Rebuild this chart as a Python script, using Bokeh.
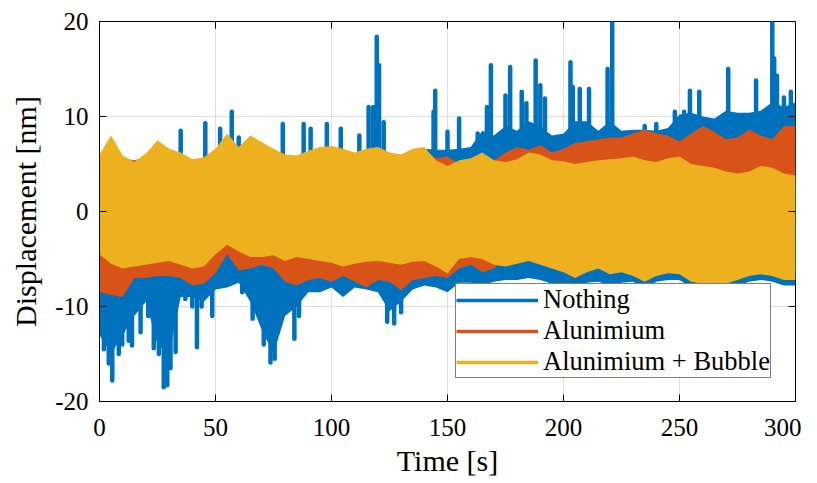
from bokeh.plotting import figure
from bokeh.models import Legend, LegendItem, Range1d, FixedTicker
from bokeh.embed import file_html
from bokeh.resources import INLINE

# ---- data (envelopes, 5 s grid) ----
time = [0, 5, 10, 15, 20, 25, 30, 35, 40, 45, 50, 55, 60, 65, 70, 75, 80, 85, 90, 95,
        100, 105, 110, 115, 120, 125, 130, 135, 140, 145, 150, 155, 160, 165, 170, 175,
        180, 185, 190, 195, 200, 205, 210, 215, 220, 225, 230, 235, 240, 245, 250, 255,
        260, 265, 270, 275, 280, 285, 290, 295, 300]

nothing_hi = [5.6, 7.6, 5.5, 5.0, 5.8, 7.2, 6.3, 6.0, 5.3, 5.4, 6.3, 7.9, 6.5, 7.7, 7.0, 6.3,
              5.8, 5.6, 6.2, 6.5, 6.6, 6.3, 6.0, 6.4, 6.6, 6.0, 5.8, 6.4, 6.6, 6.5, 6.5, 6.6,
              6.8, 8.5, 8.0, 9.0, 8.5, 9.5, 9.0, 8.0, 8.2, 9.5, 9.5, 8.5, 9.5, 8.5, 8.6, 8.6,
              8.5, 8.8, 10.2, 10.4, 10.0, 9.8, 10.6, 10.4, 10.4, 10.6, 11.5, 11.0, 11.5]
nothing_lo = [-13.0, -15.0, -13.0, -11.0, -9.5, -14.0, -15.0, -9.0, -9.0, -9.5, -8.2, -8.0,
              -7.5, -9.5, -12.5, -15.0, -11.0, -10.0, -8.5, -8.5, -8.0, -9.0, -8.0, -8.2,
              -8.5, -10.5, -9.5, -8.2, -7.8, -8.0, -8.5, -7.5, -7.5, -7.8, -7.4, -7.2, -7.2,
              -7.0, -7.2, -7.6, -7.6, -8.2, -7.5, -7.4, -7.8, -7.5, -7.4, -8.2, -7.4, -7.2,
              -7.2, -8.0, -8.2, -8.4, -8.2, -7.8, -7.4, -7.2, -7.4, -7.8, -7.8]
nothing_spike_t = [35, 45.6, 52, 57, 60, 79, 88, 91, 98, 104, 112, 116, 118, 119.5, 120.5,
                   122.5, 144, 144.7, 150, 155, 163, 167, 168.7, 175, 177, 182, 184, 188,
                   190, 192, 203, 204, 207, 211, 219, 221, 235, 240, 248, 252, 254.5, 258.5,
                   271, 283, 290, 290.8, 292, 295, 298,
                   1.9, 4.0, 5.5, 8.3, 9.8, 12.6, 14.0, 17.7, 21.0, 23.4, 25.6, 27.7, 29.2,
                   30.6, 32.8, 37.0, 40.0, 42.0, 44.0, 48.6, 61.5, 66.0, 70.8, 73.7, 75.5,
                   84.0, 86.0, 124.0, 127.0, 130.0]
nothing_spike_v = [8.5, 9.3, 8.7, 10.5, 7.8, 9.2, 9.2, 8.7, 9.2, 8.7, 8.0, 11.0, 11.0, 18.4, 15.4,
                   9.4, 10.5, 12.7, 8.4, 9.8, 8.2, 11.0, 15.4, 12.2, 15.2, 12.6, 11.4, 15.9,
                   13.3, 11.9, 15.7, 13.1, 12.9, 12.9, 15.0, 19.9, 9.0, 9.2, 10.5, 10.5, 12.7, 12.6,
                   15.0, 13.8, 19.9, 16.1, 14.3, 12.0, 12.6,
                   -14.5, -16.0, -17.8, -15.0, -14.0, -13.6, -14.1, -12.7, -11.0, -14.4, -15.0,
                   -18.5, -18.3, -16.5, -14.8, -9.2, -10.0, -14.3, -10.0, -11.0, -8.5, -11.3,
                   -14.0, -15.9, -15.5, -13.4, -11.0, -11.6, -11.8, -10.6]

alu_hi = [5.6, 7.5, 5.6, 5.4, 5.7, 7.0, 6.2, 5.8, 5.2, 5.3, 6.2, 7.8, 6.4, 7.5, 6.9, 6.2, 5.6,
          5.5, 6.0, 6.4, 6.5, 6.2, 5.8, 6.2, 6.4, 5.8, 5.6, 6.2, 6.4, 5.6, 5.8, 5.0, 5.2, 5.6,
          5.4, 6.2, 6.8, 6.5, 7.0, 6.2, 6.6, 7.2, 7.4, 7.6, 7.8, 7.8, 8.2, 8.6, 8.2, 8.0, 7.4,
          8.2, 9.0, 8.4, 7.6, 7.8, 8.6, 8.0, 7.6, 9.0, 9.0]
alu_lo = [-8.5, -8.8, -9.0, -7.0, -7.0, -6.8, -6.8, -7.0, -7.8, -7.6, -6.5, -4.5, -6.2, -6.0,
          -5.6, -6.0, -7.4, -7.8, -7.2, -7.0, -7.4, -6.8, -7.4, -8.0, -7.2, -7.4, -8.3, -7.2,
          -7.0, -6.8, -7.0, -6.0, -5.6, -6.4, -6.0, -5.0, -4.8, -4.6, -5.0, -5.4, -5.8, -6.4,
          -5.8, -5.4, -6.0, -5.8, -6.2, -6.8, -6.2, -5.9, -6.0, -6.8, -7.0, -7.2, -7.0, -6.6,
          -6.2, -6.0, -6.2, -6.6, -6.6]

bubble_hi = [6.0, 8.0, 5.9, 5.2, 6.1, 7.5, 6.6, 6.2, 5.5, 5.7, 6.6, 8.2, 6.8, 8.0, 7.3, 6.6,
             6.0, 5.9, 6.4, 6.8, 6.9, 6.6, 6.2, 6.6, 6.8, 6.2, 6.0, 6.6, 6.8, 5.4, 4.8, 5.4,
             5.6, 6.2, 5.4, 5.2, 5.5, 6.2, 6.0, 5.4, 5.3, 5.0, 5.2, 5.4, 5.5, 5.6, 5.8, 5.4,
             5.2, 5.6, 5.8, 5.0, 4.8, 4.6, 4.2, 4.0, 4.2, 4.8, 4.6, 4.0, 3.8]
bubble_lo = [-4.5, -5.5, -6.0, -5.8, -5.6, -5.4, -5.2, -5.6, -6.0, -5.8, -4.5, -3.5, -4.2,
             -4.8, -4.8, -4.6, -5.2, -4.8, -5.0, -5.2, -5.4, -5.8, -5.5, -5.3, -5.2, -5.4,
             -5.6, -5.3, -5.2, -5.8, -6.5, -5.0, -4.8, -5.0, -5.6, -5.8, -5.5, -5.2, -5.6,
             -6.0, -6.4, -7.0, -6.4, -6.0, -6.6, -6.4, -6.8, -7.4, -6.8, -6.5, -6.6, -7.4,
             -7.6, -7.8, -7.6, -7.2, -6.8, -6.6, -6.8, -7.2, -7.2]

series_names = ["Nothing", "Alunimium", "Alunimium + Bubble"]
x_ticks = [0, 50, 100, 150, 200, 250, 300]
y_ticks = [-20, -10, 0, 10, 20]

BLUE, ORANGE, YELLOW = "#0072BD", "#D95319", "#EDB120"
FONT = "Liberation Serif"
X_MIN, X_MAX, Y_MIN, Y_MAX = 0, 300, -20, 20

p = figure(width=801, height=483, x_range=Range1d(X_MIN, X_MAX), y_range=Range1d(Y_MIN, Y_MAX),
           output_backend="svg", toolbar_location=None,
           min_border_left=99, min_border_right=6, min_border_top=21, min_border_bottom=82)
p.background_fill_color = "white"
p.border_fill_color = "white"
p.outline_line_color = "black"
p.outline_line_width = 1

# Nothing
p.varea(x=time, y1=nothing_lo, y2=nothing_hi, fill_color=BLUE)
p.segment(x0=nothing_spike_t, y0=[0] * len(nothing_spike_t), x1=nothing_spike_t,
          y1=nothing_spike_v, line_color=BLUE, line_width=4.5, line_cap="round")
# Alunimium
p.varea(x=time, y1=alu_lo, y2=alu_hi, fill_color=ORANGE)
# Alunimium + Bubble
p.varea(x=time, y1=bubble_lo, y2=bubble_hi, fill_color=YELLOW)

# top / right tick marks (box style)
p.segment(x0=x_ticks, x1=x_ticks, y0=[Y_MAX] * len(x_ticks), y1=[Y_MAX - 0.75] * len(x_ticks),
          line_color="black", line_width=1)
p.segment(x0=[X_MAX] * len(y_ticks), x1=[X_MAX - 3.0] * len(y_ticks), y0=y_ticks, y1=y_ticks,
          line_color="black", line_width=1)

# legend
nan = float("nan")
items = []
for name, col in zip(series_names, [BLUE, ORANGE, YELLOW]):
    r = p.line(x=[nan, nan], y=[nan, nan], line_color=col, line_width=3.5)
    items.append(LegendItem(label=name, renderers=[r]))
legend = Legend(items=items, location=(356, 23), label_text_font=FONT,
                label_text_font_size="26.5px", label_text_color="black",
                glyph_width=82, glyph_height=28,
                label_height=28, label_standoff=5, spacing=0, padding=0, margin=0,
                border_line_color="black", border_line_width=1,
                background_fill_color="white", background_fill_alpha=1.0)
p.add_layout(legend, "center")

# grids
p.xgrid.ticker = FixedTicker(ticks=x_ticks)
p.ygrid.ticker = FixedTicker(ticks=y_ticks)
for g in (p.xgrid[0], p.ygrid[0]):
    g.grid_line_color = "#dedede"
    g.grid_line_width = 1
    g.level = "underlay"

# axes
for ax, ticks in ((p.xaxis[0], x_ticks), (p.yaxis[0], y_ticks)):
    ax.ticker = FixedTicker(ticks=ticks)
    ax.major_label_overrides = {t: str(t) for t in ticks}
    ax.major_tick_in = 7
    ax.major_tick_out = 0
    ax.minor_tick_line_color = None
    ax.axis_line_color = "black"
    ax.major_tick_line_color = "black"
    ax.major_label_text_font = FONT
    ax.major_label_text_font_size = "25px"
    ax.major_label_text_color = "black"
    ax.axis_label_text_font = FONT
    ax.axis_label_text_font_size = "30px"
    ax.axis_label_text_font_style = "normal"
    ax.axis_label_text_color = "black"
p.xaxis.axis_label = "Time [s]"
p.yaxis.axis_label = "Displacement [nm]"
p.xaxis.major_label_standoff = 17
p.yaxis.major_label_standoff = 11
p.xaxis.axis_label_standoff = 5
p.yaxis.axis_label_standoff = 10

open("out.html", "w").write(file_html(p, INLINE))
